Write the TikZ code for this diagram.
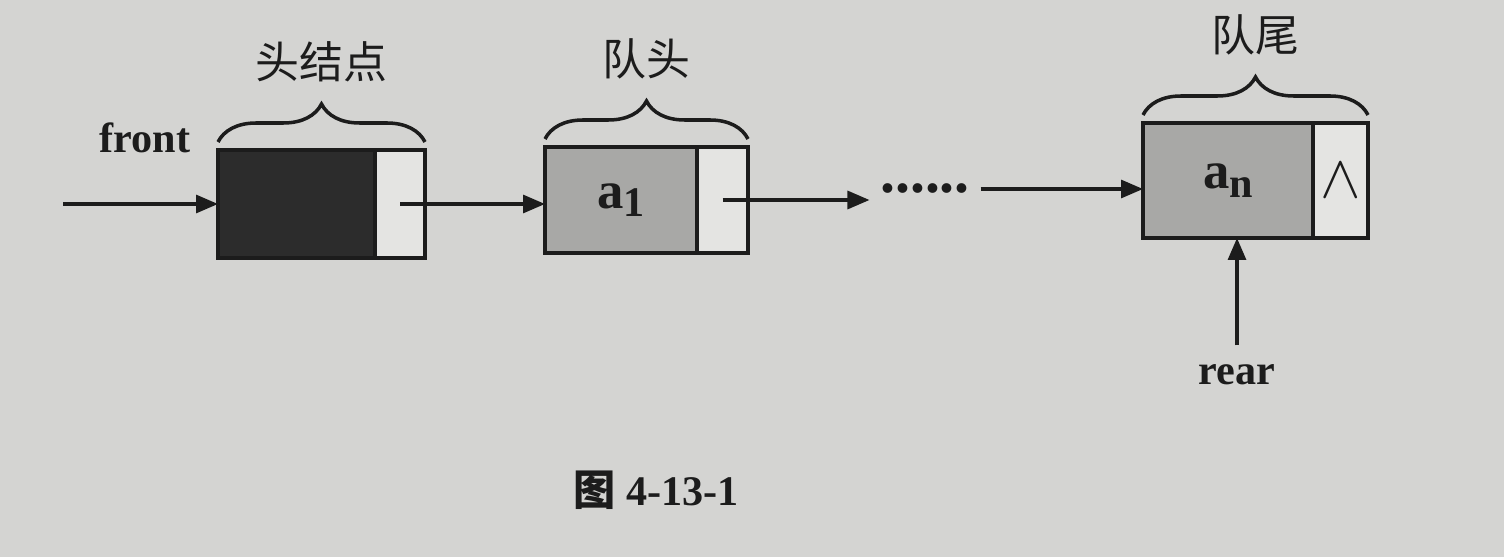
\documentclass[tikz,border=0pt]{standalone}
\usepackage{fontspec}
\setmainfont{Liberation Serif}
\newfontfamily\cjk{Noto Sans CJK SC}
\usetikzlibrary{positioning,arrows.meta,decorations.pathreplacing}
\definecolor{paper}{RGB}{212,212,210}
\definecolor{ink}{RGB}{28,28,28}
\definecolor{cellgray}{RGB}{168,168,166}
\definecolor{cellwhite}{RGB}{228,228,226}
\definecolor{headdark}{RGB}{44,44,44}

\begin{document}
\begin{tikzpicture}[
    cell/.style={draw=ink, line width=1pt, inner sep=0pt, outer sep=0pt},
    headfield/.style={cell, fill=headdark},
    datafield/.style={cell, fill=cellgray, text=ink, font=\fontsize{15}{17}\selectfont\bfseries},
    ptrfield/.style={cell, fill=cellwhite},
    link/.style={draw=ink, line width=0.9pt, -{Triangle[length=2.2mm,width=1.8mm]}},
    brace/.style={draw=ink, line width=1pt, decorate, decoration={brace, amplitude=0.38cm}},
    cjklabel/.style={text=ink, font=\fontsize{12.5}{14}\cjk},
    ptrlabel/.style={text=ink, font=\fontsize{12}{14}\selectfont\bfseries}
]
    % page
    \fill[paper] (0,0) rectangle (15.04,5.57);
    \useasboundingbox (0,0) rectangle (15.04,5.57);

    % head node
    \node[headfield, minimum width=1.57cm, minimum height=1.08cm] (hdata) at (2.965,3.53) {};
    \node[ptrfield, minimum width=0.50cm, minimum height=1.08cm, right=0pt of hdata] (hptr) {};

    % a1 node
    \node[datafield, minimum width=1.52cm, minimum height=1.06cm, text depth=0.5ex] (adata) at (6.21,3.57) {a\raisebox{-0.35ex}{\fontsize{12}{14}\selectfont 1}};
    \node[ptrfield, minimum width=0.51cm, minimum height=1.06cm, right=0pt of adata] (aptr) {};

    % an node
    \node[datafield, minimum width=1.70cm, minimum height=1.15cm, text depth=0.5ex] (ndata) at (12.28,3.765) {a\raisebox{-0.35ex}{\fontsize{12}{14}\selectfont n}};
    \node[ptrfield, minimum width=0.55cm, minimum height=1.15cm, right=0pt of ndata, text=ink, font=\fontsize{18}{20}\selectfont] (nptr) {$\wedge$};

    \node[inner sep=0.1cm, text=ink, font=\fontsize{17}{19}\selectfont\bfseries] (dots) at (9.25,3.68) {......};

    % pointers
    \node[ptrlabel] (front) at (1.45,4.19) {front};
    \node[ptrlabel] (rear) at (12.37,1.82) {rear};
    \coordinate (fstart) at (0.63,3.53);

    \draw[link] (fstart) -- (hdata.west);
    \draw[link] (hptr.center) -- (adata.west |- hptr.center);
    \draw[link] (aptr.center) -- (aptr.center -| dots.west);
    \draw[link] (dots.east) -- (dots.east -| ndata.west);
    \draw[link, shorten <=0.07cm] (rear.north) -- (rear.north |- ndata.south);

    % braces
    \draw[brace] ([yshift=0.08cm]hdata.north west) -- ([yshift=0.08cm]hptr.north east)
        node[midway, yshift=0.8cm, cjklabel] {头结点};
    \draw[brace] ([yshift=0.08cm]adata.north west) -- ([yshift=0.08cm]aptr.north east)
        node[midway, yshift=0.8cm, cjklabel] {队头};
    \draw[brace] ([yshift=0.08cm]ndata.north west) -- ([yshift=0.08cm]nptr.north east)
        node[midway, yshift=0.8cm, cjklabel] {队尾};

    % caption
    \node[text=ink, font=\fontsize{12}{14}\selectfont\bfseries] (caption) at (6.56,0.67) {{\cjk\bfseries 图} 4-13-1};
\end{tikzpicture}
\end{document}
